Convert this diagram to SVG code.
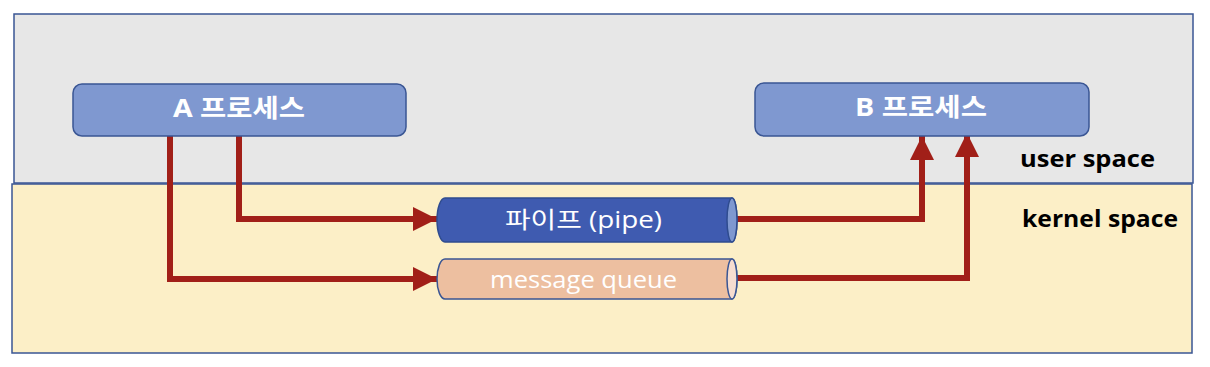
<svg xmlns="http://www.w3.org/2000/svg" width="1210" height="367" viewBox="0 0 1210 367">
<defs>
<style>
.proc{fill:#7F98D0;stroke:#3A5694;stroke-width:1.5}
.ptxt{font-family:"Open Sans","Noto Sans CJK KR",sans-serif;font-weight:bold;font-size:25px;fill:#fff}
.ctxt{font-family:"Open Sans","Noto Sans CJK KR",sans-serif;font-size:23px;fill:#fff}
.ltxt{font-family:"Open Sans","Noto Sans CJK KR",sans-serif;font-weight:bold;font-size:23px;fill:#000}
.conn{fill:none;stroke:#A11F18;stroke-width:6;stroke-linejoin:miter}
</style>
<marker id="ah" markerUnits="userSpaceOnUse" markerWidth="24" markerHeight="24" viewBox="0 0 22 22" refX="22" refY="11" orient="auto">
<path d="M0,0 L22,11 L0,22 Z" fill="#A11F18"/>
</marker>
</defs>
<rect width="1210" height="367" fill="#fff"/>
<g id="user-space">
<rect x="14" y="14" width="1179" height="169" fill="#E7E7E7" stroke="#3A5694" stroke-width="1.5"/>
<text class="ltxt" x="1020" y="167" textLength="135" lengthAdjust="spacingAndGlyphs">user space</text>
</g>
<g id="kernel-space">
<rect x="12" y="184" width="1180" height="169" fill="#FCEFC7" stroke="#3A5694" stroke-width="1.5"/>
<text class="ltxt" x="1022" y="227" textLength="156" lengthAdjust="spacingAndGlyphs">kernel space</text>
</g>
<g id="connectors">
<path class="conn" d="M170,136 V279 H437" marker-end="url(#ah)"/>
<path class="conn" d="M239,136 V219 H437" marker-end="url(#ah)"/>
<path class="conn" d="M737,219 H922 V136" marker-end="url(#ah)"/>
<path class="conn" d="M737,278 H967 V133" marker-end="url(#ah)"/>
</g>
<g id="a-process">
<rect class="proc" x="73" y="84" width="333" height="52" rx="9"/>
<text class="ptxt" x="173" y="117" textLength="132" lengthAdjust="spacingAndGlyphs">A 프로세스</text>
</g>
<g id="b-process">
<rect class="proc" x="755" y="83" width="334" height="53" rx="9"/>
<text class="ptxt" x="855" y="116" textLength="132" lengthAdjust="spacingAndGlyphs">B 프로세스</text>
</g>
<g id="pipe">
<path d="M445,198 H732 A5,22 0 0 1 732,242 H445 A8,22 0 0 1 445,198 Z" fill="#3F5BB0" stroke="#2F4C8F" stroke-width="1.5"/>
<ellipse cx="732" cy="220" rx="5" ry="22" fill="#7F98D0" stroke="#2F4C8F" stroke-width="1.5"/>
<text class="ctxt" x="505" y="228" textLength="157" lengthAdjust="spacingAndGlyphs">파이프 (pipe)</text>
</g>
<g id="message-queue">
<path d="M445,259 H732 A5,20 0 0 1 732,299 H445 A8,20 0 0 1 445,259 Z" fill="#EDBFA0" stroke="#3A5694" stroke-width="1.5"/>
<ellipse cx="732" cy="279" rx="5" ry="20" fill="#F6DDD0" stroke="#3A5694" stroke-width="1.5"/>
<text class="ctxt" x="490" y="288" textLength="187" lengthAdjust="spacingAndGlyphs">message queue</text>
</g>
</svg>
